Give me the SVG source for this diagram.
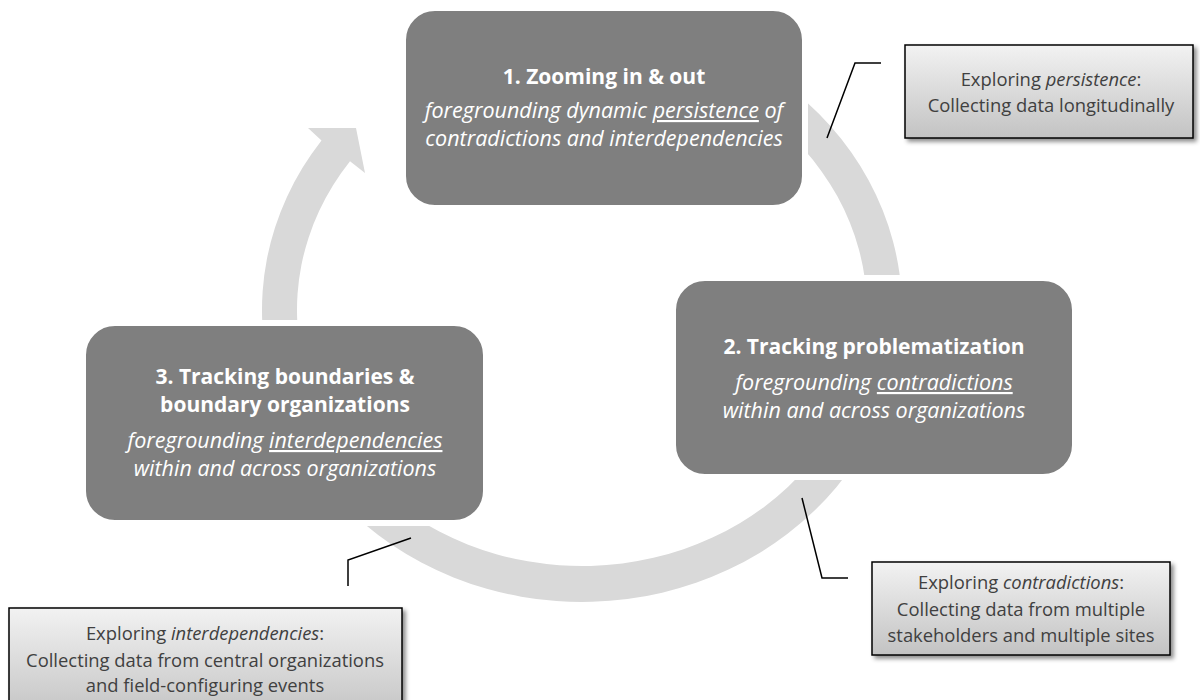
<svg xmlns="http://www.w3.org/2000/svg" width="1200" height="700" viewBox="0 0 1200 700">
<defs>
<linearGradient id="boxGrad" x1="0" y1="0" x2="0" y2="1">
<stop offset="0" stop-color="#f2f2f2"/>
<stop offset="1" stop-color="#c3c3c3"/>
</linearGradient>
<filter id="shadow" x="-10%" y="-10%" width="125%" height="130%">
<feDropShadow dx="3" dy="3" stdDeviation="2" flood-color="#000" flood-opacity="0.45"/>
</filter>
<style>
.node rect{fill:#7f7f7f;stroke:#ffffff;stroke-width:6}
.title{font-family:"Open Sans",Lato,"Liberation Sans",sans-serif;font-weight:bold;font-size:21px;fill:#ffffff;text-anchor:middle}
.sub{font-family:"Open Sans",Lato,"Liberation Sans",sans-serif;font-style:italic;font-size:21.5px;fill:#ffffff;text-anchor:middle}
.note rect{fill:url(#boxGrad);stroke:#000000;stroke-width:1.5;filter:url(#shadow)}
.ntext{font-family:"Open Sans",Lato,"Liberation Sans",sans-serif;font-size:18.4px;fill:#404040;text-anchor:middle}
.ring{fill:#d9d9d9}
.callout{fill:none;stroke:#000000;stroke-width:1.5}
</style>
</defs>
<rect width="1200" height="700" fill="#ffffff"/>
<g id="cycle">
<path class="ring" d="M 582 18 A 320 292 0 1 1 321.5 140.4 L 308 128 L 356 128 L 365 173 L 350 161.3 A 285 256 0 1 0 582 54 Z"/>
</g>
<g id="connectors">
<polyline class="callout" points="827,138 855,63 881,63"/>
<polyline class="callout" points="802,498 822,578 848,578"/>
<polyline class="callout" points="411,538 348,560 348,586"/>
</g>
<g id="node1" class="node">
<rect x="403" y="8" width="402" height="200" rx="32" ry="32"/>
<text class="title" x="604" y="84">1. Zooming in &amp; out</text>
<text class="sub" x="604" y="118">foregrounding dynamic <tspan text-decoration="underline">persistence</tspan> of</text>
<text class="sub" x="604" y="146">contradictions and interdependencies</text>
</g>
<g id="node2" class="node">
<rect x="673" y="278" width="402" height="199" rx="32" ry="32"/>
<text class="title" x="874" y="354">2. Tracking problematization</text>
<text class="sub" x="874" y="390">foregrounding <tspan text-decoration="underline">contradictions</tspan></text>
<text class="sub" x="874" y="418">within and across organizations</text>
</g>
<g id="node3" class="node">
<rect x="83" y="323" width="403" height="200" rx="32" ry="32"/>
<text class="title" x="285" y="384">3. Tracking boundaries &amp;</text>
<text class="title" x="285" y="412">boundary organizations</text>
<text class="sub" x="285" y="448">foregrounding <tspan text-decoration="underline">interdependencies</tspan></text>
<text class="sub" x="285" y="476">within and across organizations</text>
</g>
<g id="note1" class="note">
<rect x="905" y="45" width="288" height="93"/>
<text class="ntext" x="1051" y="86">Exploring <tspan font-style="italic">persistence</tspan>:</text>
<text class="ntext" x="1051" y="112">Collecting data longitudinally</text>
</g>
<g id="note2" class="note">
<rect x="872" y="562" width="298" height="93"/>
<text class="ntext" x="1021" y="589">Exploring <tspan font-style="italic">contradictions</tspan>:</text>
<text class="ntext" x="1021" y="616">Collecting data from multiple</text>
<text class="ntext" x="1021" y="642">stakeholders and multiple sites</text>
</g>
<g id="note3" class="note">
<rect x="9" y="608" width="393" height="110"/>
<text class="ntext" x="205" y="640">Exploring <tspan font-style="italic">interdependencies</tspan>:</text>
<text class="ntext" x="205" y="667">Collecting data from central organizations</text>
<text class="ntext" x="205" y="692">and field-configuring events</text>
</g>
</svg>
